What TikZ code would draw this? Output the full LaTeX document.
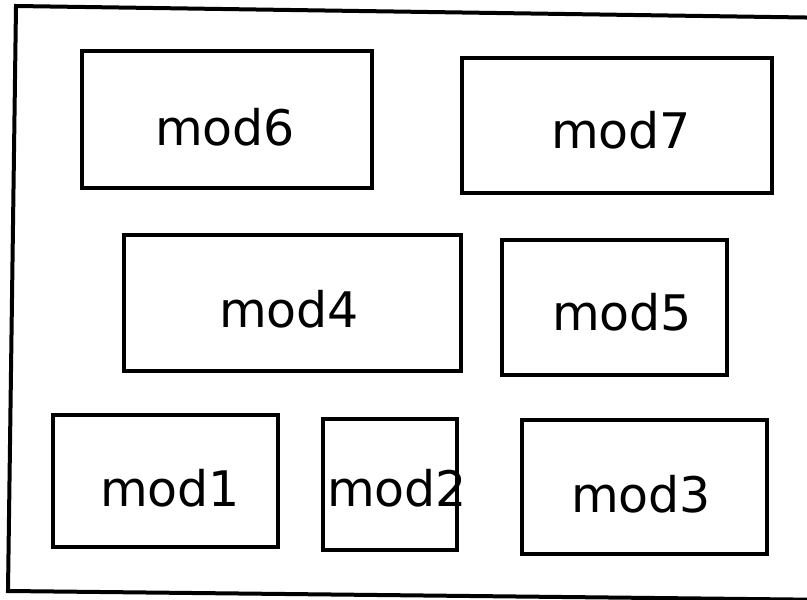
\documentclass[tikz,border=0pt]{standalone}
\usepackage{fontspec}
\setmainfont{DejaVu Sans}
\begin{document}
\begin{tikzpicture}[x=1pt,y=-1pt,
  modbox/.style={draw, line width=3.4pt, inner sep=0pt, outer sep=0pt},
  modtext/.style={inner sep=0pt, anchor=base, font=\fontsize{49}{58}\selectfont},
  frame/.style={line width=4pt, line join=miter}]
\useasboundingbox (0,0) rectangle (807,600);
\clip (0,0) rectangle (807,600);
% outer frame (right edge lies outside the page)
\draw[frame] (16,6) -- (840,18) -- (840,600) -- (8,591) -- cycle;
% boxes
\node[modbox, minimum width=290pt, minimum height=137pt] (b6) at (227,119.5) {};
\node[modbox, minimum width=310pt, minimum height=135pt] (b7) at (617,125.5) {};
\node[modbox, minimum width=337pt, minimum height=136pt] (b4) at (292.5,303) {};
\node[modbox, minimum width=225pt, minimum height=135pt] (b5) at (614.5,307.5) {};
\node[modbox, minimum width=225pt, minimum height=132pt] (b1) at (165.5,481) {};
\node[modbox, minimum width=134pt, minimum height=131pt] (b2) at (390,484.5) {};
\node[modbox, minimum width=245pt, minimum height=134pt] (b3) at (644.5,487) {};
% labels
\node[modtext] (t6) at (225,145) {mod6};
\node[modtext] (t7) at (621,148) {mod7};
\node[modtext] (t4) at (289,327) {mod4};
\node[modtext] (t5) at (622,330) {mod5};
\node[modtext] (t1) at (170,506) {mod1};
\node[modtext] (t2) at (397,506) {mod2};
\node[modtext] (t3) at (641,512) {mod3};
\end{tikzpicture}
\end{document}
